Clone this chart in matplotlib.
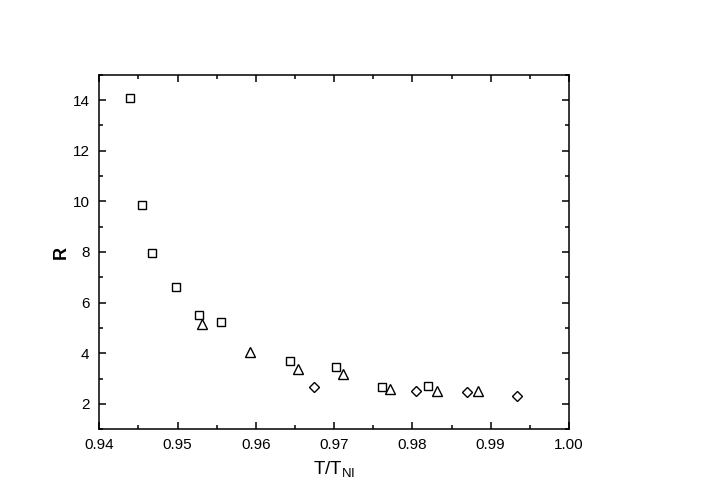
import matplotlib
matplotlib.use("Agg")
import matplotlib.pyplot as plt
from matplotlib.ticker import MultipleLocator

plt.rcParams["font.family"] = ["Liberation Sans", "DejaVu Sans"]
plt.rcParams["mathtext.fontset"] = "custom"
plt.rcParams["mathtext.rm"] = "Liberation Sans"
plt.rcParams["mathtext.it"] = "Liberation Sans:italic"

# squares
sq_x = [0.9439, 0.9454, 0.9468, 0.9498, 0.9528, 0.9555, 0.9644, 0.9702, 0.9761, 0.9820]
sq_y = [14.08, 9.84, 7.97, 6.61, 5.50, 5.22, 3.71, 3.47, 2.66, 2.71]
# triangles
tri_x = [0.9531, 0.9592, 0.9654, 0.9711, 0.9771, 0.9832, 0.9884]
tri_y = [5.16, 4.06, 3.37, 3.17, 2.58, 2.51, 2.50]
# diamonds
dia_x = [0.9674, 0.9805, 0.9870, 0.9933]
dia_y = [2.66, 2.53, 2.49, 2.33]

fig = plt.figure(figsize=(7.09, 4.91), dpi=100)
ax = fig.add_axes([0.140, 0.1257, 0.6625, 0.7222])

ax.plot(sq_x, sq_y, ls="none", marker="s", ms=6, mfc="white", mec="black", mew=1)
ax.plot(tri_x, tri_y, ls="none", marker="^", ms=7, mfc="white", mec="black", mew=1)
ax.plot(dia_x, dia_y, ls="none", marker="D", ms=5.5, mfc="white", mec="black", mew=1)

ax.set_xlim(0.94, 1.00)
ax.set_ylim(1, 15)
ax.xaxis.set_major_locator(MultipleLocator(0.01))
ax.xaxis.set_minor_locator(MultipleLocator(0.005))
ax.yaxis.set_major_locator(MultipleLocator(2))
ax.yaxis.set_minor_locator(MultipleLocator(1))
ax.xaxis.set_major_formatter(plt.FuncFormatter(lambda v, p: "%.2f" % v))

ax.tick_params(which="both", direction="in", top=True, right=True, width=1.1, labelsize=11)
ax.tick_params(which="major", length=5)
ax.tick_params(which="minor", length=3)
ax.tick_params(axis="y", pad=7)
ax.tick_params(axis="x", pad=6)
for s in ax.spines.values():
    s.set_linewidth(1.1)

ax.set_xlabel(r"T/T$_{\rm NI}$", fontsize=13.5, labelpad=5)
ax.set_ylabel("R", fontsize=13, fontweight="bold", labelpad=2)

fig.savefig("out.png", dpi=100)
